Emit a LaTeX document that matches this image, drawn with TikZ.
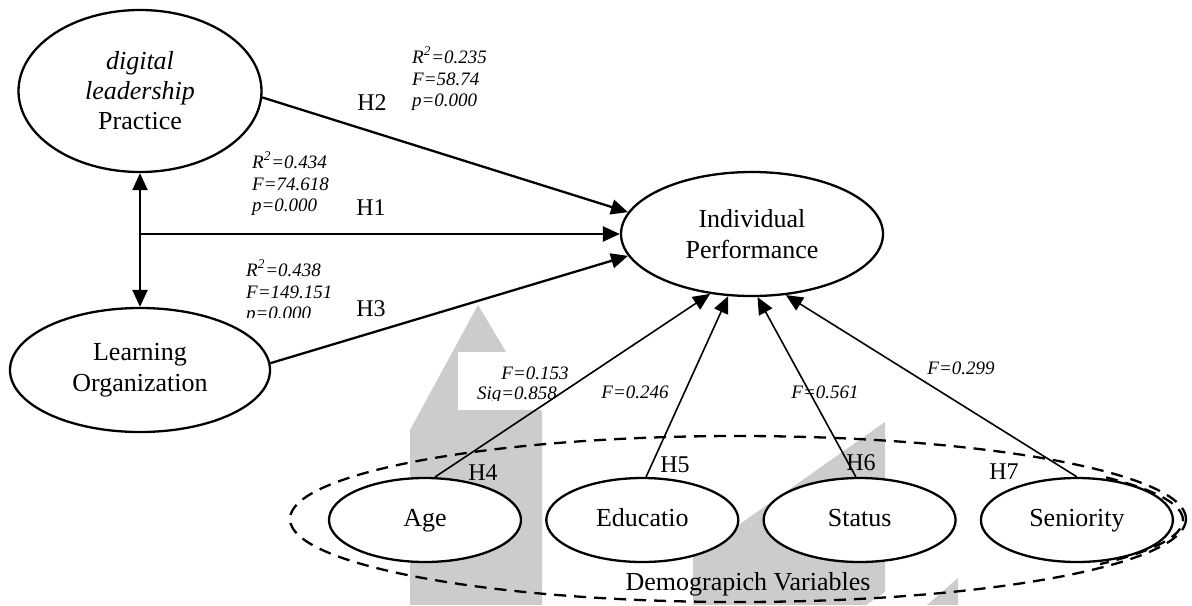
\documentclass[tikz,border=0pt]{standalone}
\usepackage{fontspec}
\setmainfont{Liberation Serif}
\usetikzlibrary{%
  shapes.geometric,% ellipse
  arrows.meta,%
  positioning,% wg. " of "
  calc%
}

\begin{document}
\begin{tikzpicture}[
  x=0.5pt, y=-0.5pt,
  font=\fontsize{13}{15.5}\selectfont,
  >={Triangle[length=8.5pt,width=7.5pt]},
  line width=1.15pt,
  var/.style={draw, ellipse, fill=white, inner sep=0pt, align=center},
  demo/.style={draw, ellipse, fill=white, inner sep=0pt, minimum width=96pt, minimum height=42pt,
    text height=9pt, text depth=2.5pt},
  hyp/.style={font=\fontsize{12}{12}\selectfont, inner sep=0pt},
  stat/.style={font=\fontsize{9.5}{10.75}\selectfont\itshape, align=left, inner sep=0pt},
  wm/.style={fill=black!20, draw=none},
]
\useasboundingbox (0,0) rectangle (1192,605);

% watermark in the back
\fill[wm] (410,605) -- (410,430) -- (478,305) -- (542,412) -- (542,605) -- cycle;
\fill[wm] (693,605) -- (693,557) -- (885,422) -- (885,592) -- (866,605) -- cycle;
\fill[wm] (927,605) -- (958,578) -- (958,605) -- cycle;
\fill[white] (458,352) rectangle (542,410);

% variables
\node[var, minimum width=121.5pt, minimum height=81pt, font=\fontsize{13}{15}\selectfont]
  (dl) at (140,91) {\textit{digital}\\\textit{leadership}\\Practice};
\node[var, minimum width=130pt, minimum height=62pt] (lo) at (140,370) {Learning\\Organization};
\node[var, minimum width=131pt, minimum height=62pt] (ip) at (752,234) {Individual\\Performance};

\node[draw, ellipse, dash pattern=on 6pt off 4pt, minimum width=448pt, minimum height=83pt]
  (grp) at (738,519) {};
\begin{scope}
  \clip (1100,430) rectangle (1192,605);
  \draw[dash pattern=on 6pt off 4pt] (735,520) ellipse [x radius=224pt, y radius=38pt];
\end{scope}
\node (grplabel) at (748,584) {Demograpich Variables};

\node[demo] (age) at (425,520) {Age};
\node[demo, right=11.5pt of age] (edu) {Educatio};
\node[demo, right=11.5pt of edu] (sta) {Status};
\node[demo, right=11.5pt of sta] (sen) {Seniority};

% relations
\draw[<->] (dl) -- (lo);
\coordinate (hub) at (dl.south |- ip.west);
\draw[->] (hub) -- (ip.west);
\draw[->] (dl.357) -- (ip.170);
\draw[->] (lo.3) -- (ip.190);

\draw[->, line width=0.8pt] (age.77) -- (ip.235);
\draw[->, line width=0.8pt] (edu.85) -- (ip.249);
\draw[->, line width=0.8pt] (sta.95) -- (ip.275);
\draw[->, line width=0.8pt] (sen.north) -- (ip.299);

% hypotheses
\node[hyp] (h1) at (371,208) {H1};
\node[hyp] (h2) at (372,103) {H2};
\node[hyp] (h3) at (371,309) {H3};
\node[hyp] (h4) at (483,473) {H4};
\node[hyp] (h5) at (675,465) {H5};
\node[hyp] (h6) at (861,463) {H6};
\node[hyp] (h7) at (1004,472) {H7};

% statistics
\node[stat, anchor=north west] (st2) at (411,46) {R\textsuperscript{2}=0.235\\F=58.74\\p=0.000};
\node[stat, anchor=north west] (st1) at (251,151) {R\textsuperscript{2}=0.434\\F=74.618\\p=0.000};
\begin{scope}
  \clip (200,250) rectangle (360,317);
  \node[stat, anchor=north west] (st3) at (245,259) {R\textsuperscript{2}=0.438\\F=149.151\\p=0.000};
\end{scope}
\node[stat] (f4) at (535,373) {F=0.153};
\begin{scope}
  \clip (440,380) rectangle (580,400.5);
  \node[stat] (sig4) at (517,395) {Sig=0.858};
\end{scope}
\node[stat] (f5) at (635,392) {F=0.246};
\node[stat] (f6) at (825,392) {F=0.561};
\node[stat] (f7) at (961,368) {F=0.299};

\end{tikzpicture}
\end{document}
